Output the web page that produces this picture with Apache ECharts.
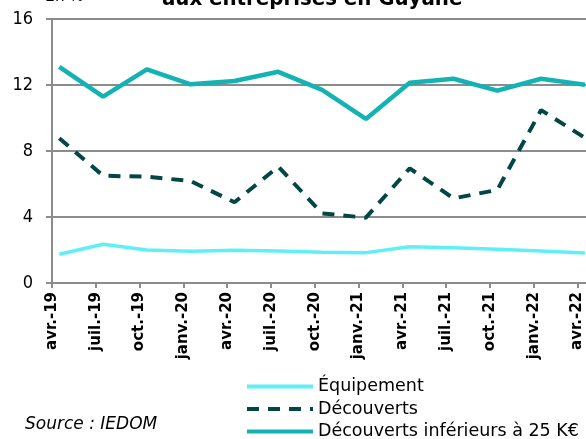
<!DOCTYPE html>
<html>
<head>
<meta charset="utf-8">
<script src="https://cdn.jsdelivr.net/npm/echarts@6/dist/echarts.min.js"></script>
<style>
  html, body { margin: 0; padding: 0; background: #fff; }
  #chart { width: 586px; height: 439px; }
</style>
</head>
<body>
<div id="chart"></div>
<script>
// trimestres (axe des dates, un point par trimestre)
const categories = ['avr.-19', 'juil.-19', 'oct.-19', 'janv.-20', 'avr.-20', 'juil.-20', 'oct.-20',
  'janv.-21', 'avr.-21', 'juil.-21', 'oct.-21', 'janv.-22', 'avr.-22']
const equipement = [1.74, 2.35, 2.0, 1.92, 1.98, 1.94, 1.86, 1.84, 2.2, 2.14, 2.04, 1.94, 1.82]
const decouverts = [8.77, 6.5, 6.44, 6.18, 4.89, 7.05, 4.22, 3.96, 6.95, 5.13, 5.64, 10.48, 8.8]
const decouvertsMoins25 = [13.1, 11.3, 12.95, 12.04, 12.24, 12.8, 11.7, 9.94, 12.14, 12.38, 11.66, 12.38, 12.02]
const yTicks = [0, 4, 8, 12, 16]

const FONT = 'DejaVu Sans'
const FONT_C = 'DejaVu Sans Condensed'

// axe en mois : un point au milieu du mois de chaque trimestre
const pts = arr => arr.map((v, i) => [i * 3 + 0.5, v])

const chart = echarts.init(document.getElementById('chart'))
chart.setOption({
  animation: false,
  backgroundColor: '#fff',
  title: {
    text: 'aux entreprises en Guyane',
    left: 157,
    top: -17,
    textStyle: { fontFamily: FONT_C, fontWeight: 'bold', fontSize: 22, color: '#000' }
  },
  graphic: [
    {
      type: 'text', x: 46, y: 5,
      style: { text: 'En %', font: 'italic 17px ' + FONT_C, fill: '#000', verticalAlign: 'bottom' }
    },
    { type: 'text', left: 25, top: 416, style: { text: 'Source : IEDOM', font: 'italic 17px ' + FONT, fill: '#000' } }
  ],
  legend: {
    orient: 'vertical',
    left: 240,
    top: 371,
    height: 100,
    itemWidth: 66,
    itemHeight: 14,
    itemGap: 1.5,
    itemStyle: { opacity: 0 },
    lineStyle: { width: 4 },
    textStyle: { fontFamily: FONT, fontSize: 17.5, color: '#000', lineHeight: 21 },
    data: ['Équipement', 'Découverts', 'Découverts inférieurs à 25 K€']
  },
  grid: { left: 52, top: 19, width: 14.6 * 39, height: 264, outerBoundsMode: 'none', containLabel: false },
  xAxis: {
    type: 'value',
    min: 0,
    max: 39,
    interval: 3,
    splitLine: { show: false },
    axisLine: { lineStyle: { color: '#8c8c8c', width: 2 } },
    axisTick: { show: true, length: 5, lineStyle: { color: '#8c8c8c', width: 2 } },
    axisLabel: {
      rotate: 90,
      margin: 9,
      fontFamily: FONT,
      fontWeight: 'bold',
      fontSize: 15,
      color: '#000',
      formatter: v => categories[v / 3] || ''
    }
  },
  yAxis: {
    type: 'value',
    min: 0,
    max: 16,
    interval: 4,
    axisLine: { show: true, lineStyle: { color: '#8c8c8c', width: 2 } },
    axisTick: { show: true, length: 6, lineStyle: { color: '#8c8c8c', width: 2 } },
    splitLine: { lineStyle: { color: '#8c8c8c', width: 2 } },
    axisLabel: {
      margin: 19,
      fontFamily: FONT_C,
      fontSize: 18,
      color: '#000',
      formatter: v => yTicks.includes(v) ? String(v) : ''
    }
  },
  series: [
    {
      name: 'Équipement',
      type: 'line',
      data: pts(equipement),
      symbol: 'none',
      color: '#5ff0f7',
      lineStyle: { width: 3.5, color: '#5ff0f7' }
    },
    {
      name: 'Découverts',
      type: 'line',
      data: pts(decouverts),
      symbol: 'none',
      color: '#034646',
      lineStyle: { width: 4, color: '#034646', type: [12, 9] }
    },
    {
      name: 'Découverts inférieurs à 25 K€',
      type: 'line',
      data: pts(decouvertsMoins25),
      symbol: 'none',
      color: '#13b3b5',
      lineStyle: { width: 4.5, color: '#13b3b5' }
    }
  ]
})
</script>
</body>
</html>
